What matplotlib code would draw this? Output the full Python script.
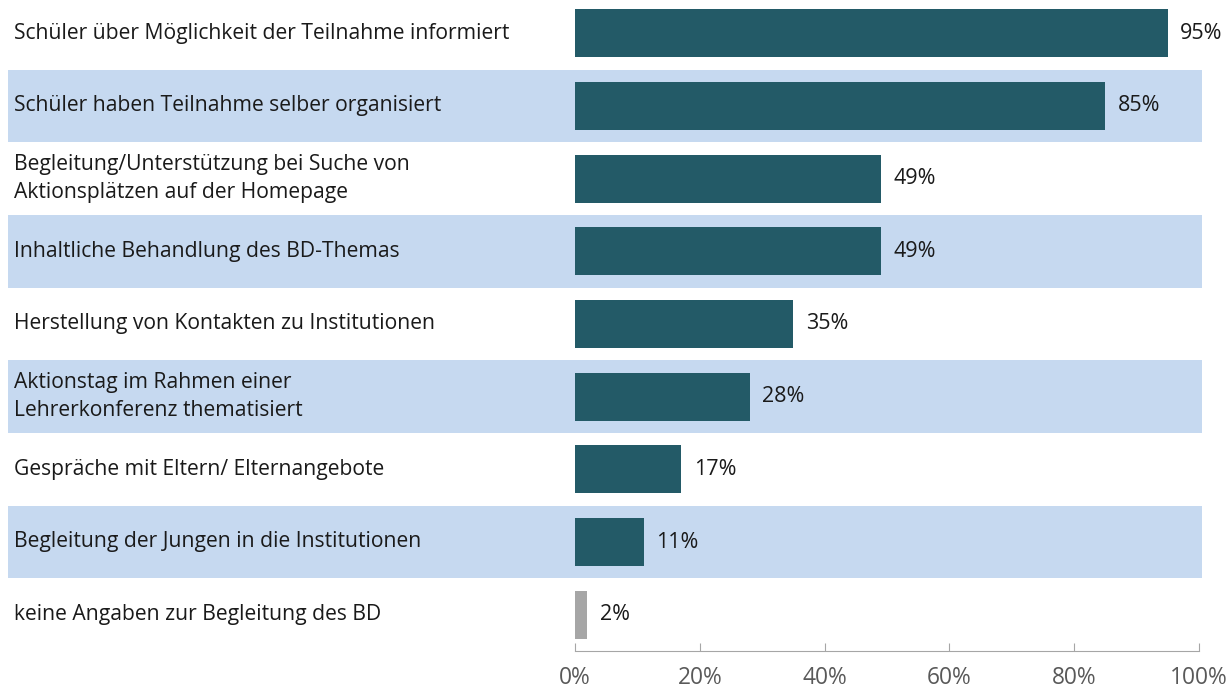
import matplotlib.pyplot as plt
from matplotlib.patches import Rectangle
from matplotlib.transforms import blended_transform_factory

plt.rcParams['font.family'] = ['Open Sans', 'DejaVu Sans']

# Data
labels = [
    'Schüler über Möglichkeit der Teilnahme informiert',
    'Schüler haben Teilnahme selber organisiert',
    'Begleitung/Unterstützung bei Suche von\nAktionsplätzen auf der Homepage',
    'Inhaltliche Behandlung des BD-Themas',
    'Herstellung von Kontakten zu Institutionen',
    'Aktionstag im Rahmen einer\nLehrerkonferenz thematisiert',
    'Gespräche mit Eltern/ Elternangebote',
    'Begleitung der Jungen in die Institutionen',
    'keine Angaben zur Begleitung des BD',
]
values = [95, 85, 49, 49, 35, 28, 17, 11, 2]
bar_colors = ['#235a67'] * 8 + ['#a6a6a6']
ticks = [0, 20, 40, 60, 80, 100]

W, H = 1232, 688
fig = plt.figure(figsize=(W / 100, H / 100), dpi=100)
ax = fig.add_axes([575 / W, 37 / H, (1199 - 575) / W, (H - 37 + 3) / H])

ypos = list(range(len(values)))
ax.barh(ypos, values, height=0.66, color=bar_colors, zorder=3)
ax.set_xlim(0, 100)
ax.set_ylim(len(values) - 0.5, -0.5)

trans = blended_transform_factory(fig.transFigure, ax.transData)

# alternating light blue row bands
for i in ypos:
    if i % 2 == 1:
        band = Rectangle((8 / W, i - 0.5), (1202 - 8) / W, 1.0, transform=trans,
                         facecolor='#c6d9f0', edgecolor='none', clip_on=False, zorder=0)
        ax.add_patch(band)

# row labels on the left
for i, lab in zip(ypos, labels):
    ax.text(14 / W, i, lab, transform=trans, ha='left', va='center',
            fontsize=15.2, color='#1a1a1a', linespacing=1.45)

# value labels
for i, v in zip(ypos, values):
    ax.annotate(f'{v}%', (v, i), xytext=(9, 0), textcoords='offset points',
                ha='left', va='center', fontsize=15.5, color='#1a1a1a')

ax.set_yticks([])
ax.set_xticks(ticks)
ax.set_xticklabels([f'{t}%' for t in ticks], fontsize=16.4, color='#595959')
ax.tick_params(axis='x', direction='in', length=6, color='#a6a6a6', pad=11)
for s in ['top', 'right', 'left']:
    ax.spines[s].set_visible(False)
ax.spines['bottom'].set_color('#a6a6a6')
ax.spines['bottom'].set_zorder(4)
ax.patch.set_alpha(0)

fig.savefig('out.png', dpi=100)
